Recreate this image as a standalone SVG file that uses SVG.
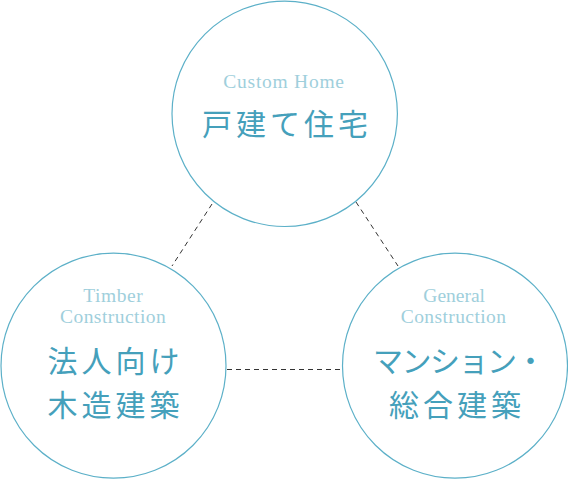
<svg xmlns="http://www.w3.org/2000/svg" width="568" height="480" viewBox="0 0 568 480">
<style>
.c{fill:#fff;stroke:#5cb0c8;stroke-width:1.2}
.en{font-family:"Liberation Serif",serif;font-size:19.5px;fill:#9fcfdc}
.jp{font-family:"Noto Sans CJK JP","Noto Sans",sans-serif;font-size:30px;fill:#45a0bb;letter-spacing:4px}
.d{stroke:#333;stroke-width:1;stroke-dasharray:5 4;fill:none}
</style>
<rect width="568" height="480" fill="#fff"/>
<g id="connectors">
<line class="d" x1="212" y1="204" x2="172" y2="266"/>
<line class="d" x1="356" y1="202" x2="398" y2="266"/>
<line class="d" x1="227" y1="369.5" x2="342" y2="369.5"/>
</g>
<g id="custom-home">
<circle class="c" cx="284.7" cy="113.8" r="112.7"/>
<text class="en" x="223.3" y="88.3" textLength="120.7" lengthAdjust="spacing">Custom Home</text>
<text class="jp" x="287" y="135" text-anchor="middle">戸建て住宅</text>
</g>
<g id="timber">
<circle class="c" cx="113.5" cy="365.7" r="112.5"/>
<text class="en" x="83.3" y="301.7" textLength="59.4" lengthAdjust="spacing">Timber</text>
<text class="en" x="60" y="323.3" textLength="105.7" lengthAdjust="spacing">Construction</text>
<text class="jp" x="115.5" y="372" text-anchor="middle">法人向け</text>
<text class="jp" x="115.5" y="415.5" text-anchor="middle">木造建築</text>
</g>
<g id="general">
<circle class="c" cx="455" cy="365.7" r="112.5"/>
<text class="en" x="423.3" y="301.7" textLength="61.7" lengthAdjust="spacing">General</text>
<text class="en" x="400.7" y="323.3" textLength="105.3" lengthAdjust="spacing">Construction</text>
<text class="jp" x="373" y="372" style="letter-spacing:-1.5px">マンション・</text>
<text class="jp" x="457" y="415.5" text-anchor="middle">総合建築</text>
</g>
</svg>
